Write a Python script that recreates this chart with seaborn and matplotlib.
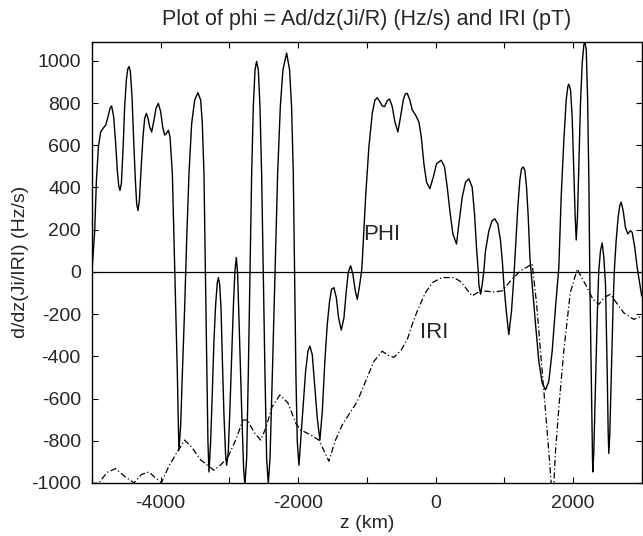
import matplotlib
matplotlib.use("Agg")
import matplotlib.pyplot as plt
from matplotlib.ticker import MultipleLocator
import seaborn as sns
import pandas as pd

# PHI curve (solid)
phi_z = [-5000, -4960, -4935, -4906, -4873, -4834, -4800, -4766, -4737, -4713,
         -4684, -4655, -4631, -4611, -4592, -4572, -4548, -4524, -4499, -4480,
         -4460, -4441, -4417, -4393, -4368, -4349, -4330, -4310, -4286, -4257,
         -4233, -4208, -4184, -4160, -4131, -4097, -4068, -4034, -4000, -3971,
         -3942, -3917, -3888, -3864,
         -3830, -3806, -3782, -3757, -3743, -3734, -3709, -3685, -3651, -3622,
         -3588, -3549, -3505, -3458, -3418, -3394, -3370, -3356, -3341, -3327,
         -3312, -3297, -3273, -3248, -3225, -3200, -3176, -3160, -3142, -3122,
         -3103, -3079, -3055, -3040, -3016, -2992, -2967, -2943, -2919, -2899,
         -2880, -2851, -2822, -2793, -2774, -2749, -2725, -2700, -2676, -2652,
         -2627, -2604, -2579, -2555, -2531, -2507, -2482, -2458, -2434, -2409,
         -2375, -2337, -2298, -2259, -2221, -2167, -2124, -2095, -2070, -2051,
         -2032, -2012, -1988,
         -1939, -1891, -1857, -1828, -1794, -1760, -1721, -1683, -1648, -1611,
         -1576, -1542, -1513, -1479, -1444, -1411, -1372, -1333, -1299, -1270,
         -1236, -1203, -1168, -1139, -1110, -1076, -1066, -1018, -970, -921,
         -883, -848, -810, -776, -742, -703, -669, -630, -592, -548,
         -509, -470, -441, -412, -374, -339, -291, -243, -208, -170,
         -131, -83, -33, 15, 83, 131, 170, 208, 252, 305,
         339, 388, 436, 484, 533, 567, 596, 621, 630, 655,
         679, 703, 727, 776, 824, 863, 906, 945, 975, 994,
         1029, 1066, 1105, 1139, 1164, 1197, 1226, 1251, 1276, 1300,
         1324, 1349, 1373, 1406, 1455, 1503, 1552, 1600, 1648, 1697,
         1745, 1794, 1828, 1867, 1901, 1925, 1939, 1964, 1988, 2012,
         2032, 2047, 2065, 2085, 2109, 2134, 2158, 2172, 2193, 2212,
         2231, 2246, 2260, 2275, 2284, 2288, 2303, 2327, 2352, 2375,
         2400, 2425, 2449, 2473, 2497, 2512, 2521, 2535, 2560, 2585,
         2604, 2628, 2657, 2681, 2701, 2730, 2763, 2797, 2836, 2861,
         2899, 2934, 2973, 3000]
phi_v = [0, 195, 433, 592, 663, 682, 695, 735, 775, 786,
         735, 608, 481, 410, 386, 418, 576, 782, 910, 960,
         973, 949, 830, 624, 433, 322, 290, 338, 481, 640,
         727, 751, 727, 687, 663, 719, 775, 798, 759, 687,
         648, 656, 671, 640,
         465, 148, -170, -487, -725, -845, -725, -487, -170, 148,
         465, 703, 814, 849, 814, 703, 465, 148, -170, -487,
         -805, -948, -805, -567, -329, -154, -51, -27, -59, -170,
         -408, -678, -868, -916, -852, -646, -408, -170, 5, 68,
         -11, -329, -646, -932, -1010, -884, -487, -11, 465, 782,
         957, 997, 957, 782, 465, -11, -487, -884, -1003, -884,
         -487, -11, 465, 782, 957, 1037, 957, 782, 465, -11,
         -487, -805, -916,
         -694, -471, -376, -352, -392, -535, -694, -797, -662, -424,
         -249, -138, -82, -75, -122, -218, -276, -218, -90, -3,
         29, -11, -90, -130, -75, 5, 52, 354, 592, 751,
         814, 825, 806, 786, 783, 811, 819, 783, 711, 663,
         735, 814, 843, 846, 814, 767, 743, 711, 640, 513,
         425, 394, 449, 513, 529, 497, 401, 290, 180, 132,
         227, 354, 425, 441, 401, 275, 116, 5, -59, -106,
         -59, 5, 100, 195, 243, 251, 227, 148, 37, -59,
         -186, -297, -186, -27, 116, 306, 433, 489, 497, 481,
         401, 259, 68, -59, -249, -424, -527, -559, -519, -376,
         -170, 21, 354, 624, 814, 878, 889, 862, 735, 481,
         259, 151, 259, 513, 798, 989, 1076, 1092, 1052, 830,
         433, -59, -376, -694, -884, -948, -852, -535, -218, 5,
         100, 137, 68, -59, -456, -757, -860, -773, -456, -138,
         21, 148, 259, 314, 330, 290, 211, 180, 195, 187,
         116, 21, -59, -115]

# IRI curve (dash-dot)
iri_z = [-5000, -4985, -4898, -4780, -4655, -4520, -4388, -4280, -4170, -4080,
         -3990, -3880, -3757, -3651, -3550, -3420, -3321, -3225, -3130, -3030,
         -2900, -2803, -2739, -2640, -2545, -2470, -2380, -2265, -2150, -2030,
         -1964, -1830, -1697, -1620, -1552, -1460, -1358, -1250, -1139, -1020,
         -897, -776, -690, -606, -500, -412, -330, -267, -150, -48,
         97, 266, 360, 436, 533, 600, 679, 850, 970, 1091,
         1236, 1406, 1470, 1527, 1590, 1648, 1706, 1745, 1800, 1866,
         1960, 2061, 2207, 2290, 2375, 2460, 2545, 2640, 2739, 2885,
         3000]
iri_v = [-1010, -1003, -1000, -950, -932, -970, -1000, -960, -948, -975,
         -999, -920, -852, -797, -830, -890, -916, -940, -915, -884,
         -790, -702, -702, -760, -797, -740, -640, -583, -620, -720,
         -749, -770, -797, -850, -897, -800, -725, -670, -614, -520,
         -424, -376, -395, -405, -370, -321, -240, -186, -100, -51,
         -27, -27, -45, -75, -114, -100, -90, -95, -90, -43,
         5, 37, -150, -376, -620, -852, -1100, -852, -620, -376,
         -100, 13, -75, -130, -154, -120, -106, -150, -194, -225,
         -210]

y_ticks = [-1000, -800, -600, -400, -200, 0, 200, 400, 600, 800, 1000]
x_ticks = [-4000, -2000, 0, 2000]

sns.set_style("ticks")
plt.rcParams['font.family'] = ['Liberation Sans', 'DejaVu Sans']
plt.rcParams['axes.unicode_minus'] = False

fig = plt.figure(figsize=(6.43, 5.36), dpi=100)
ax = fig.add_axes([0.143, 0.099, 0.855, 0.823])

phi_df = pd.DataFrame({"z": phi_z, "v": phi_v})
iri_df = pd.DataFrame({"z": iri_z, "v": iri_v})

sns.lineplot(data=phi_df, x="z", y="v", sort=False, ax=ax, color="black",
             linewidth=1.0, estimator=None)
sns.lineplot(data=iri_df, x="z", y="v", sort=False, ax=ax, color="black",
             linewidth=0.9, estimator=None, linestyle=(0, (5, 2, 1, 2)))
ax.axhline(0, color="black", linewidth=0.9)

ax.set_xlim(-5000, 3000)
ax.set_ylim(-1000, 1090)
ax.set_xticks(x_ticks)
ax.xaxis.set_minor_locator(MultipleLocator(1000))
ax.set_yticks(y_ticks)
ax.tick_params(axis="both", which="both", direction="in", top=True, right=True,
               labelsize=14, length=4, width=0.8, color="black")
ax.tick_params(axis="x", which="major", pad=9)
ax.tick_params(axis="y", which="major", pad=8)
for s in ax.spines.values():
    s.set_linewidth(1.0)
    s.set_color("black")

ax.set_xlabel("z (km)", fontsize=14, labelpad=2)
ax.set_ylabel("d/dz(Ji/IRI) (Hz/s)", fontsize=14, labelpad=1)
ax.set_title("Plot of phi = Ad/dz(Ji/R) (Hz/s) and IRI (pT)", fontsize=15.5, pad=12)

ax.text(-785, 176, "PHI", fontsize=16, ha="center", va="center")
ax.text(-15, -286, "IRI", fontsize=16, ha="center", va="center")

fig.savefig("out.png", dpi=100)
